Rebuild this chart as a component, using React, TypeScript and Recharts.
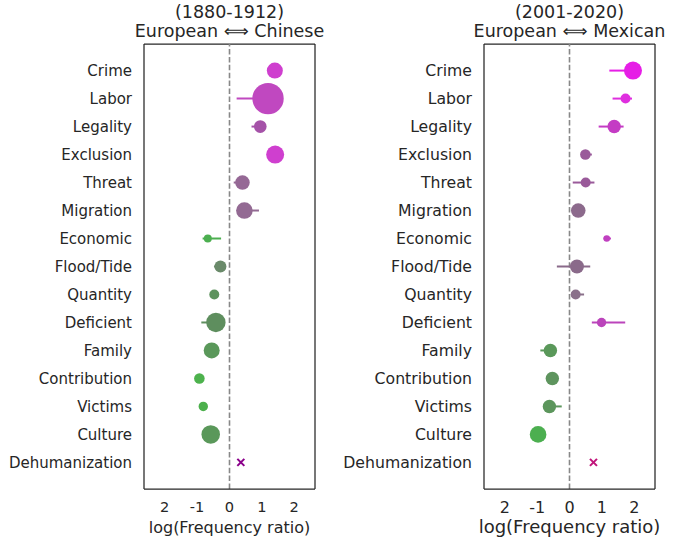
import React from 'react';
import { ScatterChart, Scatter, XAxis, YAxis, ErrorBar, ReferenceLine } from 'recharts';

const categories = [
  'Crime', 'Labor', 'Legality', 'Exclusion', 'Threat', 'Migration', 'Economic',
  'Flood/Tide', 'Quantity', 'Deficient', 'Family', 'Contribution', 'Victims', 'Culture', 'Dehumanization',
];

const xTicks = [-2, -1, 0, 1, 2];
const xTickLabels = ['2', '-1', '0', '1', '2'];

// 1880-1912, European vs Chinese
const chineseRatio = [1.40, 1.19, 0.95, 1.41, 0.40, 0.46, -0.67, -0.28, -0.47, -0.42, -0.55, -0.93, -0.81, -0.58, 0.35];
const chineseLow = [1.30, 0.22, 0.68, 1.35, 0.13, 0.35, -0.83, -0.48, -0.50, -0.87, -0.60, -0.95, -0.84, -0.62, 0.35];
const chineseHigh = [1.50, 1.45, 1.05, 1.50, 0.50, 0.91, -0.26, -0.20, -0.40, -0.30, -0.45, -0.85, -0.75, -0.50, 0.35];
const chineseCount = [64, 246, 40, 81, 53, 69, 16, 36, 25, 94, 64, 28, 22, 86, 0];

// 2001-2020, European vs Mexican
const mexicanRatio = [1.96, 1.73, 1.38, 0.49, 0.50, 0.27, 1.15, 0.23, 0.19, 0.99, -0.59, -0.53, -0.62, -0.97, 0.74];
const mexicanLow = [1.23, 1.33, 0.90, 0.45, 0.10, 0.20, 1.05, -0.39, 0.15, 0.69, -0.90, -0.58, -0.66, -1.05, 0.74];
const mexicanHigh = [2.05, 1.93, 1.67, 0.69, 0.77, 0.35, 1.28, 0.64, 0.45, 1.72, -0.50, -0.48, -0.24, -0.90, 0.74];
const mexicanCount = [81, 25, 45, 28, 25, 53, 11, 49, 25, 22, 45, 45, 45, 69, 0];

const chineseColors = [
  '#cf3fcf', '#c048c0', '#a552a8', '#cf3fcf', '#956895', '#936a93', '#4caf50',
  '#6a8a6a', '#5e935e', '#5e8e5e', '#5a985a', '#4db24d', '#4cb04c', '#5a985a', '#8b008b',
];
const mexicanColors = [
  '#e61ee6', '#df2fdf', '#c43cc4', '#9a5a9a', '#9a5a9a', '#8c6a8c', '#c040c0',
  '#8a6a8a', '#8a708a', '#bb44bb', '#5a985a', '#5e945e', '#5c965c', '#4caf50', '#c0147a',
];

const text = '#262626';
const frame = { stroke: text, strokeWidth: 1.25 };
const xDomain = [-2.64, 2.64];
const yDomain = [-0.95, 14.95];
const rowTicks = categories.map((_, i) => i);

const Mark = (color: string) => (p: any) => {
  if (p.payload.n > 0) return <circle cx={p.cx} cy={p.cy} r={Math.sqrt(p.payload.n)} fill={color} />;
  const s = 3.5;
  return (
    <g stroke={color} strokeWidth={2}>
      <line x1={p.cx - s} y1={p.cy - s} x2={p.cx + s} y2={p.cy + s} />
      <line x1={p.cx - s} y1={p.cy + s} x2={p.cx + s} y2={p.cy - s} />
    </g>
  );
};

const Panel = ({ left, ratio, low, high, count, colors, tickFont, yFont, labelFont }: any) => {
  const rows = categories.map((name, i) => ({
    name, y: i, x: ratio[i], n: count[i], err: [ratio[i] - low[i], high[i] - ratio[i]],
  }));
  return (
    <div style={{ position: 'absolute', left, top: 0 }}>
      <ScatterChart width={330} height={541} margin={{ top: 44, right: 15, bottom: 0, left: 0 }}>
        <XAxis
          type="number" dataKey="x" domain={xDomain} ticks={xTicks} allowDataOverflow
          tickFormatter={(v: number) => xTickLabels[xTicks.indexOf(v)]}
          axisLine={frame} tickLine={false} tickSize={0} tickMargin={13} height={52}
          tick={{ fill: text, fontSize: tickFont }}
          label={{ value: 'log(Frequency ratio)', position: 'insideBottom', offset: 8, fill: text, fontSize: labelFont }}
        />
        <YAxis
          type="number" dataKey="y" domain={yDomain} reversed ticks={rowTicks} interval={0} allowDataOverflow
          tickFormatter={(v: number) => categories[v]}
          width={144} axisLine={frame} tickLine={false} tickSize={0} tickMargin={12}
          tick={{ fill: text, fontSize: yFont }}
        />
        <ReferenceLine y={yDomain[0]} {...frame} ifOverflow="visible" />
        <ReferenceLine x={xDomain[1]} {...frame} ifOverflow="visible" />
        <ReferenceLine x={0} stroke="#888888" strokeWidth={1.6} strokeDasharray="5.5 2.4" />
        {rows.map((r, i) => (
          <Scatter key={r.name} data={[r]} fill={colors[i]} isAnimationActive={false} shape={Mark(colors[i])}>
            {r.n > 0 && (
              <ErrorBar dataKey="err" direction="x" width={0} stroke={colors[i]} strokeWidth={2} isAnimationActive={false} />
            )}
          </Scatter>
        ))}
      </ScatterChart>
    </div>
  );
};

export default function App() {
  return (
    <div style={{ position: 'absolute', left: 0, top: 0, width: 674, height: 541, background: '#fff', fontFamily: 'DejaVu Sans' }}>
      <Panel left={0} ratio={chineseRatio} low={chineseLow} high={chineseHigh} count={chineseCount}
        colors={chineseColors} tickFont={14.6} yFont={15} labelFont={16} />
      <Panel left={340} ratio={mexicanRatio} low={mexicanLow} high={mexicanHigh} count={mexicanCount}
        colors={mexicanColors} tickFont={16} yFont={15.7} labelFont={18} />
      <svg width={674} height={44} style={{ position: 'absolute', left: 0, top: 0 }}>
        <g fill={text} fontSize={17.5} textAnchor="middle">
          <text x={229.5} y={18.3}>(1880-1912)</text>
          <text x={229.5} y={36.7}>European ⟺ Chinese</text>
          <text x={569.5} y={18.3}>(2001-2020)</text>
          <text x={569.5} y={36.7}>European ⟺ Mexican</text>
        </g>
      </svg>
    </div>
  );
}
